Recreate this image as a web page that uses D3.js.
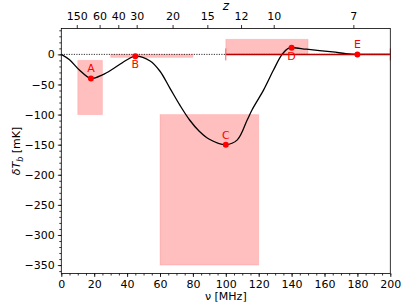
<!DOCTYPE html>
<html>
<head>
<meta charset="utf-8">
<script src="https://cdn.jsdelivr.net/npm/d3@7"></script>
<style>
  body { margin: 0; background: #fff; }
  text { font-family: "DejaVu Sans", sans-serif; }
</style>
</head>
<body>
<svg id="chart" width="407" height="305"></svg>
<script>
//Curve of the brightness temperature
var curveNu = [0, 5, 11, 18, 25, 32, 40, 45, 54, 60, 66, 72, 78, 84, 90, 100, 107, 113, 116, 123, 129, 134, 138, 141, 149, 165, 173, 180, 190, 200];
var curveT  = [0, -9, -26, -40, -34, -23, -9, -3, -11, -28, -56, -84, -109, -128, -141, -150, -142, -109, -92, -59, -26, -1, 10, 11, 8.6, 4, 1.3, 0, 0, 0];

//Marked points
var pointNames = ["A", "B", "C", "D", "E"];
var pointNu = [18, 45, 100, 140, 180];
var pointT = [-40, -3, -150, 11, 0];
var labelBelow = [false, true, false, true, false];

//Shaded boxes: frequency range and temperature range
var boxNu0 = [10, 30, 60, 100];
var boxNu1 = [25, 80, 120, 150];
var boxT0 = [-100, -5, -350, 0];
var boxT1 = [-10, 0, -100, 25];

//Horizontal error bar of point E
var errNu = [100, 200];

//Redshift ticks on the top axis
var zTicks = [150, 60, 40, 30, 20, 15, 12, 10, 7];

var svg = d3.select("svg#chart");
var plotLeft = 61.3, plotRight = 390.3, plotTop = 28.5, plotBottom = 273.5;

var x = d3.scaleLinear().domain([0, 200]).range([plotLeft, plotRight]);
var y = d3.scaleLinear().domain([-364, 43]).range([plotBottom, plotTop]);

//Boxes
svg.selectAll(".box")
  .data(boxNu0.map(function (d, i) { return i; }))
  .enter().append("rect")
    .attr("x", function (i) { return x(boxNu0[i]); })
    .attr("width", function (i) { return x(boxNu1[i]) - x(boxNu0[i]); })
    .attr("y", function (i) { return y(boxT1[i]); })
    .attr("height", function (i) { return y(boxT0[i]) - y(boxT1[i]); })
    .attr("fill", "red").attr("fill-opacity", 0.25)
    .attr("stroke", "red").attr("stroke-opacity", 0.12);

//Zero line
svg.append("line")
  .attr("x1", x(0)).attr("x2", x(200))
  .attr("y1", y(0)).attr("y2", y(0))
  .attr("stroke", "black").attr("stroke-width", 0.8)
  .attr("stroke-dasharray", "1.2,1.3");

//Curve
var line = d3.line()
  .x(function (d, i) { return x(curveNu[i]); })
  .y(function (d, i) { return y(curveT[i]); })
  .curve(d3.curveCatmullRom.alpha(0.5));

svg.append("path")
  .attr("d", line(curveNu))
  .attr("fill", "none").attr("stroke", "black").attr("stroke-width", 1.3);

//Error bar of E
svg.append("line")
  .attr("x1", x(errNu[0])).attr("x2", x(errNu[1]))
  .attr("y1", y(0)).attr("y2", y(0))
  .attr("stroke", "#b80000").attr("stroke-width", 1.5);
svg.selectAll(".cap")
  .data(errNu)
  .enter().append("line")
    .attr("x1", function (d) { return x(d); }).attr("x2", function (d) { return x(d); })
    .attr("y1", y(0) - 6).attr("y2", y(0) + 6)
    .attr("stroke", "#ff5a5a").attr("stroke-width", 1);

//Points and their names
svg.selectAll(".pt")
  .data(pointNames)
  .enter().append("circle")
    .attr("cx", function (d, i) { return x(pointNu[i]); })
    .attr("cy", function (d, i) { return y(pointT[i]); })
    .attr("r", 3).attr("fill", "red");

svg.selectAll(".ptLabel")
  .data(pointNames)
  .enter().append("text")
    .attr("x", function (d, i) { return x(pointNu[i]); })
    .attr("y", function (d, i) { return y(pointT[i]) + (labelBelow[i] ? 12 : -6); })
    .attr("text-anchor", "middle")
    .attr("font-size", 11)
    .attr("fill", "red")
    .text(function (d) { return d; });

//Axes
function styleAxis(g) {
  g.select(".domain").remove();
  g.selectAll("text").attr("font-size", 11).attr("fill", "black")
    .style("font-family", "DejaVu Sans, sans-serif");
  g.selectAll("line").attr("stroke", "black").attr("stroke-width", 0.8);
}

svg.append("g").attr("transform", "translate(0," + plotBottom + ")")
  .call(d3.axisBottom(x).tickValues(d3.range(0, 201, 5)).tickSize(2).tickFormat(""))
  .call(styleAxis);
svg.append("g").attr("transform", "translate(0," + plotBottom + ")")
  .call(d3.axisBottom(x).tickValues(d3.range(0, 201, 20)).tickSize(3.5).tickPadding(3))
  .call(styleAxis);

svg.append("g").attr("transform", "translate(" + plotLeft + ",0)")
  .call(d3.axisLeft(y).tickValues(d3.range(-360, 41, 10)).tickSize(2).tickFormat(""))
  .call(styleAxis);
svg.append("g").attr("transform", "translate(" + plotLeft + ",0)")
  .call(d3.axisLeft(y).tickValues(d3.range(-350, 1, 50)).tickSize(3.5).tickPadding(3))
  .call(styleAxis);

svg.append("g").attr("transform", "translate(0," + plotTop + ")")
  .call(d3.axisTop(x).tickValues(zTicks.map(function (z) { return 1420.4 / (1 + z); }))
    .tickSize(3.5).tickPadding(5)
    .tickFormat(function (d, i) { return zTicks[i]; }))
  .call(styleAxis);

//Frame
svg.append("rect")
  .attr("x", plotLeft).attr("y", plotTop)
  .attr("width", plotRight - plotLeft).attr("height", plotBottom - plotTop)
  .attr("fill", "none").attr("stroke", "black").attr("stroke-width", 0.8);

//Axis titles
svg.append("text")
  .attr("x", (plotLeft + plotRight) / 2).attr("y", 300)
  .attr("text-anchor", "middle").attr("font-size", 11)
  .text("ν [MHz]");

svg.append("text")
  .attr("x", (plotLeft + plotRight) / 2).attr("y", 10)
  .attr("text-anchor", "middle").attr("font-size", 12)
  .attr("font-style", "italic")
  .text("z");

var yTitle = svg.append("text")
  .attr("transform", "translate(20," + ((plotTop + plotBottom) / 2) + ") rotate(-90)")
  .attr("text-anchor", "middle").attr("font-size", 11);
yTitle.append("tspan").attr("font-style", "italic").text("δT");
yTitle.append("tspan").attr("font-style", "italic").attr("font-size", 8).attr("dy", 3).text("b");
yTitle.append("tspan").attr("dy", -3).text(" [mK]");
</script>
</body>
</html>
